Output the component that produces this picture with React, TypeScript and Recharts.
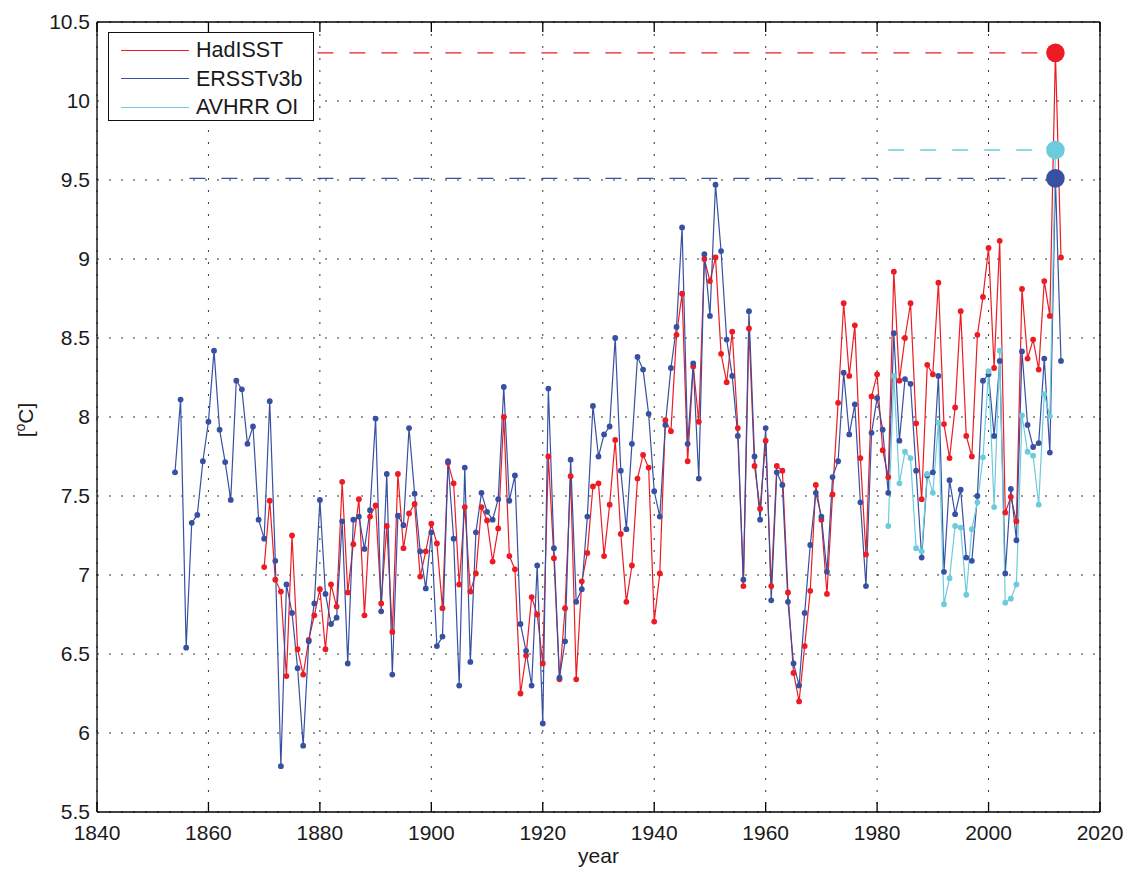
import React from 'react';
import { LineChart, Line, XAxis, YAxis, CartesianGrid, ReferenceLine, Legend } from 'recharts';

// Annual mean SST [°C], one value per year starting at the given first year
const ERSST_START = 1854;
const ERSST_VALUES = [
  7.65, 8.11, 6.54, 7.33, 7.38, 7.72, 7.97, 8.42, 7.92, 7.715,
  7.475, 8.23, 8.175, 7.83, 7.94, 7.35, 7.23, 8.10, 7.09, 5.79,
  6.94, 6.76, 6.41, 5.92, 6.58, 6.82, 7.475, 6.88, 6.69, 6.73,
  7.34, 6.44, 7.35, 7.37, 7.165, 7.41, 7.99, 6.77, 7.64, 6.37,
  7.375, 7.315, 7.93, 7.515, 7.15, 6.915, 7.27, 6.55, 6.61, 7.72,
  7.23, 6.30, 7.68, 6.45, 7.27, 7.52, 7.40, 7.35, 7.48, 8.19,
  7.47, 7.63, 6.69, 6.52, 6.30, 7.06, 6.06, 8.18, 7.17, 6.35,
  6.58, 7.73, 6.83, 6.91, 7.37, 8.07, 7.75, 7.89, 7.94, 8.50,
  7.66, 7.29, 7.83, 8.38, 8.30, 8.02, 7.53, 7.37, 7.95, 8.31,
  8.57, 9.20, 7.83, 8.34, 7.61, 9.03, 8.64, 9.47, 9.05, 8.49,
  8.26, 7.88, 6.97, 8.67, 7.75, 7.35, 7.93, 6.84, 7.65, 7.57,
  6.83, 6.44, 6.30, 6.76, 7.19, 7.52, 7.37, 7.02, 7.62, 7.72,
  8.28, 7.89, 8.08, 7.46, 6.93, 7.90, 8.12, 7.92, 7.52, 8.53,
  7.85, 8.24, 8.21, 7.66, 7.11, 7.63, 7.65, 8.26, 7.02, 7.60,
  7.385, 7.54, 7.11, 7.09, 7.50, 8.23, 8.27, 7.88, 8.355, 7.01,
  7.545, 7.22, 8.415, 7.95, 7.81, 7.835, 8.37, 7.775, 9.51, 8.355,
];

const HADISST_START = 1870;
const HADISST_VALUES = [
  7.05, 7.47, 6.97, 6.895, 6.36, 7.25, 6.53, 6.37, 6.59, 6.745,
  6.91, 6.53, 6.94, 6.80, 7.59, 6.89, 7.195, 7.48, 6.745, 7.37,
  7.44, 6.82, 7.31, 6.64, 7.64, 7.17, 7.39, 7.45, 6.99, 7.15,
  7.325, 7.20, 6.79, 7.71, 7.58, 6.94, 7.43, 6.895, 7.01, 7.43,
  7.345, 7.085, 7.295, 8.00, 7.12, 7.036, 6.25, 6.49, 6.86, 6.75,
  6.44, 7.75, 7.106, 6.34, 6.79, 7.625, 6.34, 6.96, 7.14, 7.56,
  7.58, 7.12, 7.445, 7.855, 7.26, 6.83, 7.06, 7.61, 7.76, 7.68,
  6.705, 7.01, 7.98, 7.91, 8.52, 8.78, 7.72, 8.32, 7.97, 9.00,
  8.86, 9.01, 8.40, 8.22, 8.54, 7.93, 6.93, 8.56, 7.69, 7.42,
  7.85, 6.93, 7.69, 7.66, 6.89, 6.38, 6.20, 6.55, 6.90, 7.57,
  7.35, 6.88, 7.51, 8.09, 8.72, 8.26, 8.58, 7.74, 7.13, 8.13,
  8.27, 7.79, 7.62, 8.92, 8.23, 8.50, 8.72, 7.96, 7.48, 8.33,
  8.27, 8.85, 7.955, 7.74, 8.06, 8.67, 7.88, 7.75, 8.52, 8.76,
  9.07, 8.31, 9.115, 7.395, 7.495, 7.34, 8.81, 8.37, 8.49, 8.30,
  8.86, 8.64, 10.305, 9.01,
];

const AVHRR_START = 1982;
const AVHRR_VALUES = [
  7.31, 8.26, 7.58, 7.78, 7.74, 7.17, 7.15, 7.64, 7.52, 7.965,
  6.815, 6.98, 7.31, 7.30, 6.875, 7.29, 7.46, 7.745, 8.29, 7.43,
  8.42, 6.825, 6.85, 6.94, 8.01, 7.78, 7.755, 7.445, 8.145, 8.005,
  9.69,
];

// Year whose value is marked with a large dot and a dashed level line
const HIGHLIGHT_YEAR = 2012;

const X_TICKS = [1840, 1860, 1880, 1900, 1920, 1940, 1960, 1980, 2000, 2020];
const Y_TICKS = [5.5, 6, 6.5, 7, 7.5, 8, 8.5, 9, 9.5, 10, 10.5];

const FONT = '"Liberation Sans", Arial, Helvetica, sans-serif';
const TEXT = '#1a1a1a';

const SERIES = [
  { key: 'had', name: 'HadISST', color: '#ED1C24', start: HADISST_START, values: HADISST_VALUES, dashFromEnd: true },
  { key: 'ers', name: 'ERSSTv3b', color: '#3850A2', start: ERSST_START, values: ERSST_VALUES, dashFromEnd: true },
  { key: 'avh', name: 'AVHRR OI', color: '#6CCCDC', start: AVHRR_START, values: AVHRR_VALUES, dashFromEnd: false },
];

type Row = { year: number; [k: string]: number | null };

const firstYear = Math.min(...SERIES.map((s) => s.start));
const lastYear = Math.max(...SERIES.map((s) => s.start + s.values.length - 1));
const rows: Row[] = [];
for (let y = firstYear; y <= lastYear; y++) {
  const row: Row = { year: y };
  SERIES.forEach((s) => {
    const i = y - s.start;
    row[s.key] = i >= 0 && i < s.values.length ? s.values[i] : null;
  });
  rows.push(row);
}

const valueAt = (s: (typeof SERIES)[number], year: number) => s.values[year - s.start];

const makeDot = (key: string, color: string) => (props: any) => {
  const { cx, cy, payload, index } = props;
  if (cx == null || cy == null || payload == null || payload[key] == null) {
    return <g key={`${key}-e-${index}`} />;
  }
  const big = payload.year === HIGHLIGHT_YEAR;
  return <circle key={`${key}-d-${index}`} cx={cx} cy={cy} r={big ? 9.3 : 2.9} fill={color} stroke="none" />;
};

const LegendBox = () => (
  <div
    style={{
      boxSizing: 'border-box',
      width: 206,
      height: 89,
      border: '1.4px solid #111',
      background: '#fff',
      paddingTop: 3,
      fontFamily: FONT,
    }}
  >
    {SERIES.map((s) => (
      <div key={s.key} style={{ display: 'flex', alignItems: 'center', height: 28.5 }}>
        <div style={{ marginLeft: 12, width: 68, height: 0, borderTop: `1.3px solid ${s.color}` }} />
        <span style={{ marginLeft: 7, fontSize: 21.5, color: TEXT, lineHeight: '28.5px', whiteSpace: 'nowrap' }}>
          {s.name}
        </span>
      </div>
    ))}
  </div>
);

const YLabel = (props: any) => {
  const vb = props.viewBox || { x: 0, y: 22, width: 97, height: 790 };
  const x = vb.x + 33;
  const y = vb.y + vb.height / 2 + 3;
  return (
    <text x={x} y={y} transform={`rotate(-90 ${x} ${y})`} textAnchor="middle" fontFamily={FONT} fontSize={21} fill={TEXT}>
      [<tspan fontSize={14} dy={-8}>o</tspan>
      <tspan dy={8}>C]</tspan>
    </text>
  );
};

const XLabel = (props: any) => {
  const vb = props.viewBox || { x: 97, y: 812, width: 1003, height: 58 };
  return (
    <text x={vb.x + vb.width / 2} y={vb.y + 51} textAnchor="middle" fontFamily={FONT} fontSize={21} fill={TEXT}>
      year
    </text>
  );
};

const X_DOMAIN: [number, number] = [1840, 2020];
const Y_DOMAIN: [number, number] = [5.5, 10.5];
const blank = () => '';
const axisStroke = { stroke: '#000', strokeWidth: 1.3 };

export default function App() {
  return (
    <div style={{ position: 'absolute', left: 0, top: 0, width: 1126, height: 870, background: '#fff' }}>
      <LineChart width={1126} height={870} data={rows} margin={{ top: 22, right: 26, bottom: 0, left: 0 }}>
        <CartesianGrid stroke="#333" strokeWidth={1} strokeDasharray="2 10" />
        <XAxis
          dataKey="year"
          type="number"
          domain={X_DOMAIN}
          ticks={X_TICKS}
          height={58}
          tickLine={false}
          tickSize={0}
          tickMargin={13}
          axisLine={axisStroke}
          tick={{ fontSize: 21, fill: TEXT, fontFamily: FONT }}
          label={<XLabel />}
        />
        <YAxis
          type="number"
          domain={Y_DOMAIN}
          ticks={Y_TICKS}
          width={97}
          tickLine={false}
          tickSize={0}
          tickMargin={7}
          axisLine={axisStroke}
          tick={{ fontSize: 21, fill: TEXT, fontFamily: FONT }}
          label={<YLabel />}
        />
        {/* inward tick marks and the top/right box edges */}
        <XAxis xAxisId="top" orientation="top" type="number" dataKey="year" domain={X_DOMAIN} ticks={X_TICKS} mirror height={1}
          tickSize={10} tickFormatter={blank} axisLine={axisStroke} tickLine={axisStroke} />
        <XAxis xAxisId="bin" orientation="bottom" type="number" dataKey="year" domain={X_DOMAIN} ticks={X_TICKS} mirror height={1}
          tickSize={10} tickFormatter={blank} axisLine={false} tickLine={axisStroke} />
        <YAxis yAxisId="lin" orientation="left" type="number" domain={Y_DOMAIN} ticks={Y_TICKS} mirror width={1}
          tickSize={10} tickFormatter={blank} axisLine={false} tickLine={axisStroke} />
        <YAxis yAxisId="right" orientation="right" type="number" domain={Y_DOMAIN} ticks={Y_TICKS} mirror width={1}
          tickSize={10} tickFormatter={blank} axisLine={axisStroke} tickLine={axisStroke} />

        {SERIES.map((s) => {
          const level = valueAt(s, HIGHLIGHT_YEAR);
          const seg = s.dashFromEnd
            ? [{ x: HIGHLIGHT_YEAR, y: level }, { x: s.start, y: level }]
            : [{ x: s.start, y: level }, { x: HIGHLIGHT_YEAR, y: level }];
          return (
            <ReferenceLine
              key={`lvl-${s.key}`}
              segment={seg}
              stroke={s.color}
              strokeWidth={1.3}
              strokeDasharray="16 16"
              strokeDashoffset={s.dashFromEnd ? 14 : 0}
            />
          );
        })}

        {SERIES.map((s) => (
          <Line
            key={s.key}
            dataKey={s.key}
            name={s.name}
            type="linear"
            stroke={s.color}
            strokeWidth={1.2}
            dot={makeDot(s.key, s.color)}
            activeDot={false}
            isAnimationActive={false}
          />
        ))}

        <Legend
          layout="vertical"
          align="center"
          verticalAlign="middle"
          wrapperStyle={{ position: 'absolute', left: 108, top: 32, width: 206, height: 89 }}
          content={() => <LegendBox />}
        />
      </LineChart>
    </div>
  );
}
